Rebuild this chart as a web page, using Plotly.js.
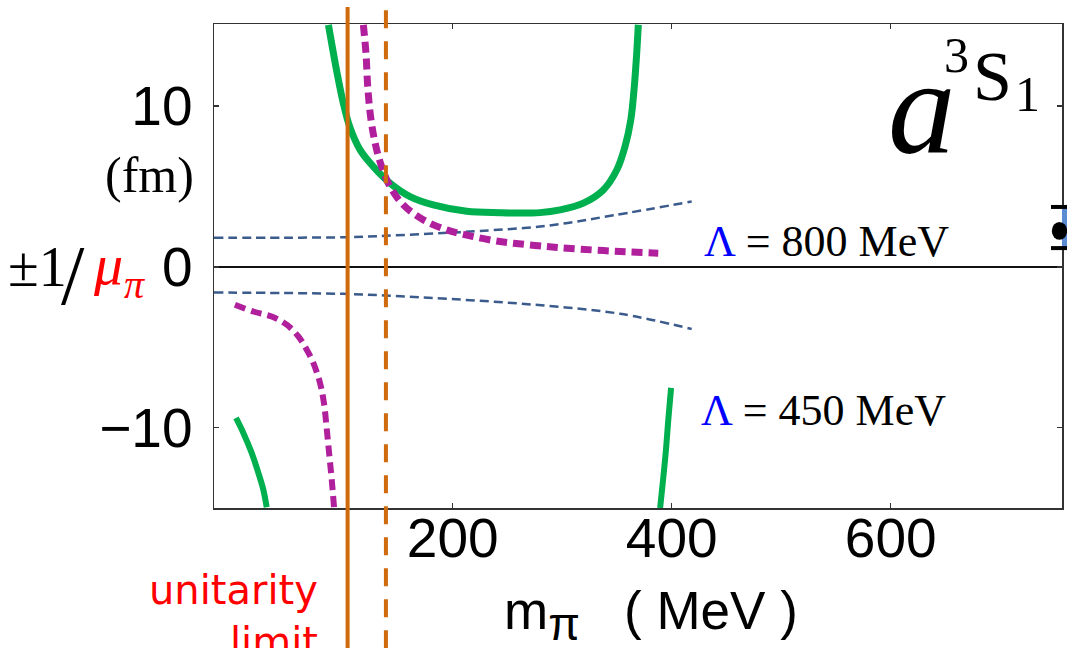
<!DOCTYPE html>
<html>
<head>
<meta charset="utf-8">
<script src="https://cdn.plot.ly/plotly-3.0.1.min.js"></script>
<style>html,body{margin:0;padding:0;background:#fff;}#chart{width:1067px;height:648px;}</style>
</head>
<body>
<div id="chart"></div>
<script>
// ---- data ----
// m_pi (MeV) and scattering length a (fm)
const greenUpperX = [86.5, 94.0, 100.0, 106.0, 115.4, 127.5, 142.8, 161.0, 182.3, 212.8, 243.2, 255.4, 279.7, 298.0, 319.3, 337.5, 349.8, 357.3, 362.6, 365.8, 368.0, 369.5];
const greenUpperY = [15.05, 12.2, 10.2, 8.7, 7.27, 6.23, 5.2, 4.37, 3.85, 3.45, 3.36, 3.34, 3.37, 3.54, 3.96, 4.78, 6.02, 7.47, 9.13, 11.2, 13.27, 15.05];
const greenLowerLeftX = [2.1, 8.8, 16.4, 22.5, 27.0, 30.1];
const greenLowerLeftY = [-9.4, -10.33, -11.57, -12.81, -13.85, -14.95];
const greenLowerRightX = [399.4, 396.9, 394.5, 391.8, 389.4];
const greenLowerRightY = [-7.53, -9.5, -11.57, -13.44, -15];

const magentaUpperX = [118.4, 120.8, 122.4, 125.4, 129.9, 135.1, 142.8, 154.9, 173.2, 194.5, 218.8, 243.2, 255.4, 285.7, 316.3, 352.9, 387.7];
const magentaUpperY = [15.05, 13.27, 11.2, 9.13, 7.47, 6.23, 4.99, 3.85, 2.92, 2.3, 1.88, 1.57, 1.47, 1.26, 1.1, 0.95, 0.85];
const magentaLowerX = [1.1, 17.9, 34.7, 48.4, 59.0, 66.7, 72.7, 78.8, 82.4, 85.0, 87.4, 89.5, 91.6];
const magentaLowerY = [-2.36, -2.78, -3.09, -3.6, -4.33, -5.16, -5.98, -7.22, -8.47, -10.12, -11.78, -13.23, -14.95];

const blueUpperX = [-18, 46.8, 104.7, 139.1, 191.3, 224.9, 285.7, 346.7, 418.2];
const blueUpperY = [1.8, 1.81, 1.84, 1.93, 2.1, 2.23, 2.55, 3.2, 4.06];
const blueLowerX = [-18, 46.8, 100.0, 137.1, 197.4, 274.6, 352.9, 418.2];
const blueLowerY = [-1.6, -1.63, -1.68, -1.78, -2.0, -2.36, -2.92, -3.87];

const unitarityLimitSolid = 104;   // MeV
const unitarityLimitDashed = 139;  // MeV

const xTickVals = [200, 400, 600];
const yTickVals = [-10, 0, 10];
const xRange = [-18, 756.4];
const yRange = [-15, 15.1];

// ---- styles ----
const GREEN = '#00b04f', MAGENTA = '#b0209c', BLUE = '#3a5b8c', ORANGE = '#cf6a0d';

function tr(x, y, color, width, dash) {
  return {x: x, y: y, type: 'scatter', mode: 'lines', hoverinfo: 'skip', showlegend: false,
          line: {color: color, width: width, dash: dash || 'solid', shape: 'spline', smoothing: 1.0}};
}

const data = [
  tr(blueUpperX, blueUpperY, BLUE, 2.5, '9px,5px'),
  tr(blueLowerX, blueLowerY, BLUE, 2.5, '9px,5px'),
  tr(greenUpperX, greenUpperY, GREEN, 7),
  tr(greenLowerLeftX, greenLowerLeftY, GREEN, 6),
  tr(greenLowerRightX, greenLowerRightY, GREEN, 6),
  tr(magentaUpperX, magentaUpperY, MAGENTA, 7, '11px,6px'),
  tr(magentaLowerX, magentaLowerY, MAGENTA, 6, '11px,6px')
];

const serif = 'Liberation Serif, Times New Roman, serif';
const sans = 'Liberation Sans, Arial, sans-serif';
const NB = '\u00a0';

const layout = {
  width: 1067, height: 648,
  margin: {l: 214, r: 5, t: 24, b: 140, pad: 0},
  paper_bgcolor: '#ffffff', plot_bgcolor: '#ffffff',
  showlegend: false,
  xaxis: {
    range: xRange, tickvals: xTickVals, ticktext: xTickVals.map(String),
    showgrid: false, zeroline: false,
    showline: true, linecolor: '#333', linewidth: 1.5, mirror: 'ticks',
    ticks: 'inside', ticklen: 5, tickwidth: 1.5, tickcolor: '#333',
    tickfont: {family: sans, size: 55, color: '#000'},
    ticklabelstandoff: -19
  },
  yaxis: {
    range: yRange, tickvals: yTickVals,
    showgrid: false, zeroline: true, zerolinecolor: '#111', zerolinewidth: 1.5,
    showline: true, linecolor: '#333', linewidth: 1.5, mirror: 'ticks',
    ticks: 'inside', ticklen: 5, tickwidth: 1.5, tickcolor: '#333',
    tickfont: {family: sans, size: 55, color: '#000'},
    ticklabelstandoff: 9
  },
  shapes: [
    {type: 'line', xref: 'x', yref: 'paper', x0: unitarityLimitSolid, x1: unitarityLimitSolid, y0: -0.29, y1: 1.035,
     line: {color: ORANGE, width: 4}, layer: 'above'},
    {type: 'line', xref: 'x', yref: 'paper', x0: unitarityLimitDashed, x1: unitarityLimitDashed, y0: -0.29, y1: 1.035,
     line: {color: ORANGE, width: 4, dash: '18px,13px'}, layer: 'above'},
    // cropped slide element at the right edge
    {type: 'rect', xref: 'paper', yref: 'paper', x0: 1.0, x1: 1.008, y0: 0.535, y1: 0.622, fillcolor: '#5b8bd0', line: {width: 0}},
    {type: 'circle', xref: 'paper', yref: 'paper', x0: 0.988, x1: 1.006, y0: 0.554, y1: 0.591, fillcolor: '#000', line: {width: 0}},
    {type: 'line', xref: 'paper', yref: 'paper', x0: 0.987, x1: 1.008, y0: 0.622, y1: 0.622, line: {color: '#000', width: 4}},
    {type: 'line', xref: 'paper', yref: 'paper', x0: 0.987, x1: 1.008, y0: 0.537, y1: 0.537, line: {color: '#000', width: 4}}
  ],
  annotations: [
    // x-axis title
    {xref: 'paper', yref: 'paper', x: 0.5153, y: -0.1467, showarrow: false, xanchor: 'center', yanchor: 'top',
     text: 'm<sub><span style="font-size:46px">\u03c0</span></sub>' + NB + NB + NB + '(' + NB + 'MeV' + NB + ')',
     font: {family: sans, size: 53, color: '#000'}},
    {xref: 'x', yref: 'y', x: 540.9, y: 1.55, showarrow: false, xanchor: 'center', yanchor: 'middle',
     text: '<span style="color:#0000ff">\u039b</span> = 800 MeV', font: {family: serif, size: 44, color: '#000'}},
    {xref: 'x', yref: 'y', x: 538.2, y: -8.91, showarrow: false, xanchor: 'center', yanchor: 'middle',
     text: '<span style="color:#0000ff">\u039b</span> = 450 MeV', font: {family: serif, size: 44, color: '#000'}},
    {xref: 'x', yref: 'y', x: 628.6, y: 9.92, showarrow: false, xanchor: 'center', yanchor: 'middle',
     text: '<i>a</i>', font: {family: serif, size: 135, color: '#000'}},
    {xref: 'x', yref: 'y', x: 659.6, y: 13.17, showarrow: false, xanchor: 'center', yanchor: 'middle',
     text: '3', font: {family: serif, size: 50, color: '#000'}},
    {xref: 'x', yref: 'y', x: 692.5, y: 11.86, showarrow: false, xanchor: 'center', yanchor: 'middle',
     text: 'S', font: {family: serif, size: 70, color: '#000'}},
    {xref: 'x', yref: 'y', x: 724.5, y: 10.75, showarrow: false, xanchor: 'center', yanchor: 'middle',
     text: '1', font: {family: serif, size: 50, color: '#000'}},
    {xref: 'paper', yref: 'paper', x: -0.0755, y: 0.688, showarrow: false, xanchor: 'center', yanchor: 'middle',
     text: '(fm)', font: {family: serif, size: 50, color: '#000'}},
    {xref: 'paper', yref: 'paper', x: -0.2087, y: 0.498, showarrow: false, xanchor: 'center', yanchor: 'middle',
     text: '\u00b11', font: {family: serif, size: 56, color: '#000'}},
    {xref: 'paper', yref: 'paper', x: -0.1657, y: 0.4804, showarrow: false, xanchor: 'center', yanchor: 'middle',
     text: '/', font: {family: serif, size: 84, color: '#000'}},
    {xref: 'paper', yref: 'paper', x: -0.125, y: 0.503, showarrow: false, xanchor: 'center', yanchor: 'middle',
     text: '<i>\u03bc</i>', font: {family: serif, size: 58, color: '#ff0000'}},
    {xref: 'paper', yref: 'paper', x: -0.0943, y: 0.4618, showarrow: false, xanchor: 'center', yanchor: 'middle',
     text: '<i>\u03c0</i>', font: {family: serif, size: 40, color: '#ff0000'}},
    {xref: 'paper', yref: 'paper', x: 0.125, y: -0.1178, showarrow: false, xanchor: 'right', yanchor: 'top', align: 'right',
     text: 'unitarity<br>limit', font: {family: 'DejaVu Sans, sans-serif', size: 40, color: '#ff0000'}}
  ]
};

Plotly.newPlot('chart', data, layout, {displayModeBar: false, staticPlot: true});
</script>
</body>
</html>
